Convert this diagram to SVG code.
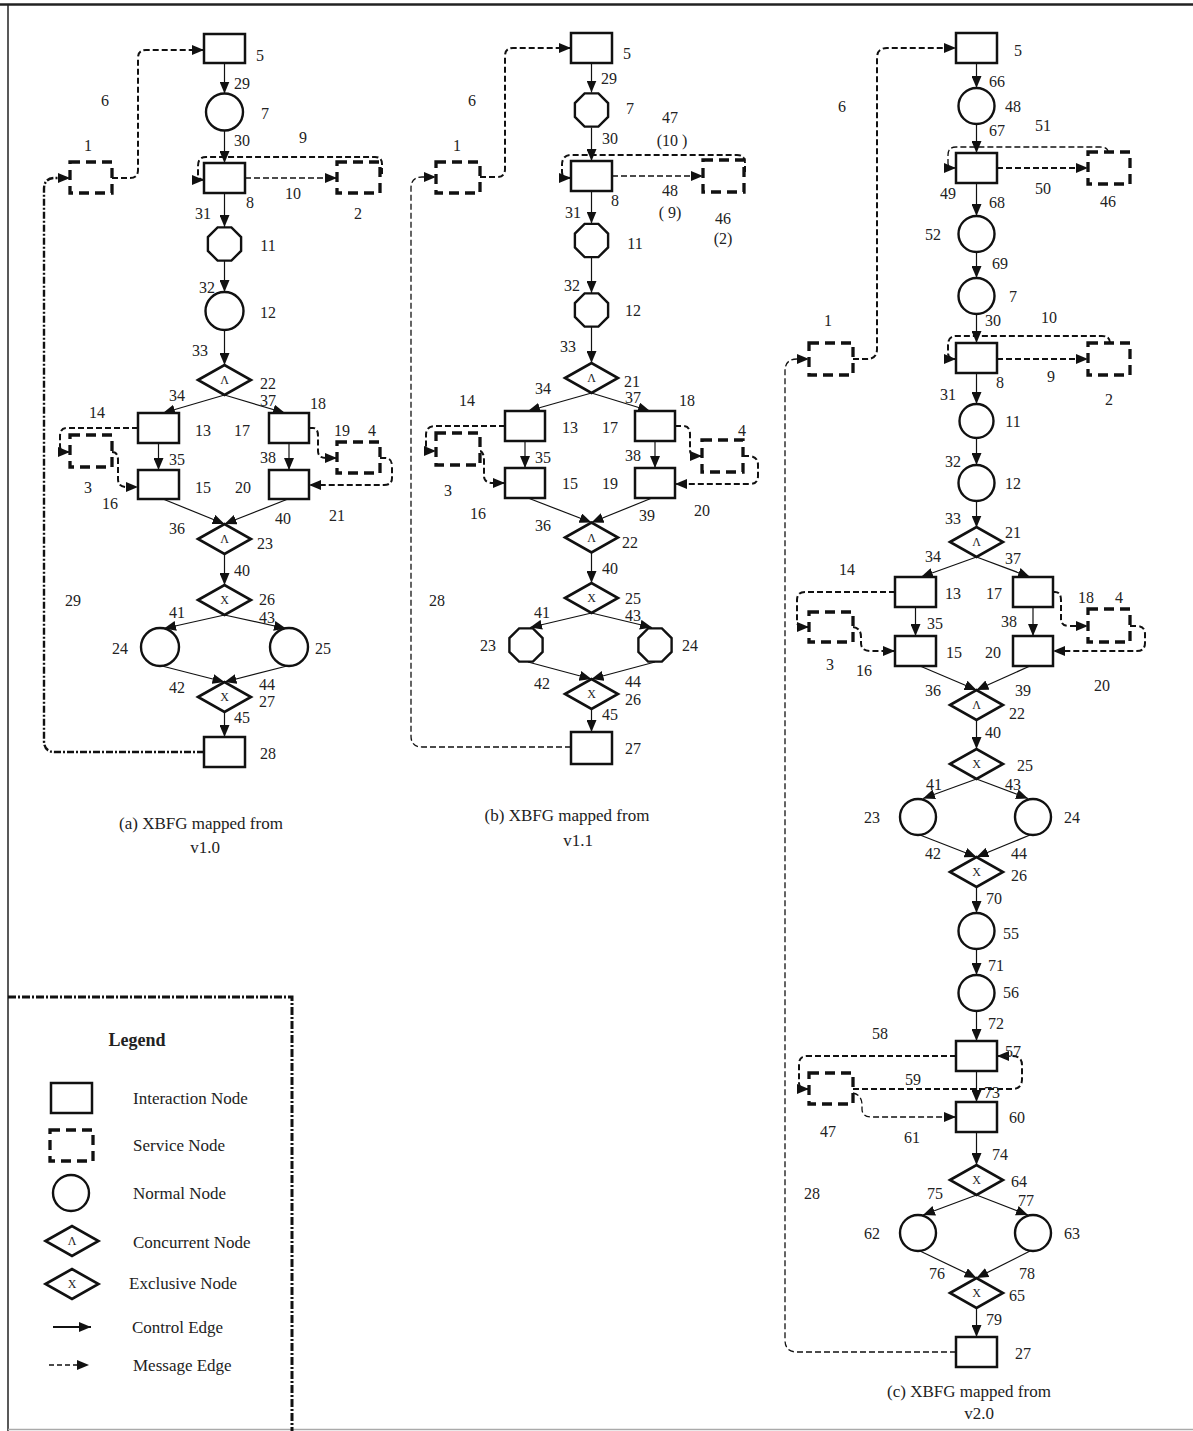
<svg xmlns="http://www.w3.org/2000/svg" width="1193" height="1431" viewBox="0 0 1193 1431">
<style>
.ni{fill:#fff;stroke:#111;stroke-width:2.5}
.sv{fill:#fff;stroke:#111;stroke-width:3.3;stroke-dasharray:10 6}
.nn{fill:#fff;stroke:#111;stroke-width:2.4}
.dm{fill:#fff;stroke:#111;stroke-width:2.6}
.ce{fill:none;stroke:#111;stroke-width:1.2;marker-end:url(#ah)}
.me{fill:none;stroke:#111;stroke-width:2;stroke-dasharray:6 3;marker-end:url(#ah)}
.mt{fill:none;stroke:#111;stroke-width:1.3;stroke-dasharray:6 3;marker-end:url(#ah)}
.ml{fill:none;stroke:#111;stroke-width:2.4;stroke-dasharray:7 2 2 2;marker-end:url(#ah)}
text{font-family:"Liberation Serif","Times New Roman",serif;fill:#222}
.l{font-size:16px;text-anchor:middle}
.g{font-size:12px;text-anchor:middle}
.cap{font-size:17px;text-anchor:middle}
.lg{font-size:17px}
</style>
<defs>
<marker id="ah" markerUnits="userSpaceOnUse" markerWidth="13" markerHeight="10" refX="12" refY="5" orient="auto"><path d="M0,0 L12,5 L0,10 z" fill="#111"/></marker>
<polygon id="dia" points="-26.5,0 0,-15 26.5,0 0,15"/>
<polygon id="oct" points="-6.9,-16.6 6.9,-16.6 16.6,-6.9 16.6,6.9 6.9,16.6 -6.9,16.6 -16.6,6.9 -16.6,-6.9"/>
</defs>
<rect x="0" y="0" width="1193" height="1431" fill="#fff"/>
<!-- frame -->
<line x1="0" y1="4.5" x2="1193" y2="4.5" stroke="#222" stroke-width="2.5"/>
<line x1="8" y1="4" x2="8" y2="1431" stroke="#222" stroke-width="1.5"/>
<line x1="8" y1="1429.5" x2="1193" y2="1429.5" stroke="#aaa" stroke-width="1.5"/>

<!-- ================= connectors ================= -->
<g id="connectors">
<!-- (a) control -->
<path class="ce" d="M224.5,63 V93.5"/>
<path class="ce" d="M224.5,130.5 V163"/>
<path class="ce" d="M224.5,193 V227"/>
<path class="ce" d="M224.5,261 V292"/>
<path class="ce" d="M224.5,330 V365"/>
<path class="ce" d="M224.5,395 L163,413"/>
<path class="ce" d="M224.5,395 L285,413"/>
<path class="ce" d="M158.5,443 V470"/>
<path class="ce" d="M289,443 V470"/>
<path class="ce" d="M163,499 L224.5,524"/>
<path class="ce" d="M288,499 L224.5,524"/>
<path class="ce" d="M224.5,554 V585"/>
<path class="ce" d="M224.5,615 L164,628.5"/>
<path class="ce" d="M224.5,615 L286,628.5"/>
<path class="ce" d="M162,666 L224.5,682"/>
<path class="ce" d="M287,666 L224.5,682"/>
<path class="ce" d="M224.5,712 V737"/>
<!-- (a) message -->
<path class="me" d="M112,178 H130 Q138,178 138,170 V58 Q138,50 146,50 H204"/>
<path class="ml" d="M204,752 H55 Q44,752 44,741 V189 Q44,178 55,178 H70"/>
<path class="mt" d="M245,178 H337"/>
<path class="me" d="M382,174 V164 Q382,157 375,157 H206 Q198,157 198,166 V174 Q198,180 204,180"/>
<path class="me" d="M138,428 H67 Q60,428 60,436 V446 Q60,452 66,452 H70"/>
<path class="me" d="M112,452 Q118,452 118,460 V479 Q118,487 126,487 H138"/>
<path class="me" d="M309,428 H313 Q318,428 318,436 V451 Q318,458 326,458 H337"/>
<path class="me" d="M380,458 H385 Q392,458 392,466 V478 Q392,485 384,485 H309"/>

<!-- (b) control -->
<path class="ce" d="M591.5,63 V92.5"/>
<path class="ce" d="M591.5,127.5 V161"/>
<path class="ce" d="M591.5,191 V223.5"/>
<path class="ce" d="M591.5,257.5 V293"/>
<path class="ce" d="M591.5,327 V363"/>
<path class="ce" d="M591.5,393 L528,411"/>
<path class="ce" d="M591.5,393 L650,411"/>
<path class="ce" d="M525,441 V468"/>
<path class="ce" d="M655,441 V468"/>
<path class="ce" d="M528,498 L591.5,522.5"/>
<path class="ce" d="M652,498 L591.5,522.5"/>
<path class="ce" d="M591.5,552.5 V583"/>
<path class="ce" d="M591.5,613 L530,627.5"/>
<path class="ce" d="M591.5,613 L652,627.5"/>
<path class="ce" d="M528,662 L591.5,679"/>
<path class="ce" d="M655,662 L591.5,679"/>
<path class="ce" d="M591.5,709 V732"/>
<!-- (b) message -->
<path class="me" d="M480,177 H497 Q505,177 505,169 V56 Q505,48 513,48 H571"/>
<path class="mt" d="M571,747 H422 Q411,747 411,736 V188 Q411,177 422,177 H436"/>
<path class="mt" d="M612,176 H703"/>
<path class="me" d="M745,172 V163 Q745,155 737,155 H571 Q562,155 562,165 V172 Q562,178 571,178"/>
<path class="me" d="M505,426 H435 Q426,426 426,435 V445 Q426,451 432,451 H436"/>
<path class="me" d="M480,451 Q484,452 484,461 V476 Q484,483 493,483 H505"/>
<path class="me" d="M675,426 H683 Q690,426 690,434 V450 Q690,456 697,456 H702"/>
<path class="me" d="M743,456 H750 Q758,457 758,465 V476 Q758,484 750,484 H675"/>

<!-- (c) control -->
<path class="ce" d="M976.5,63 V88"/>
<path class="ce" d="M976.5,124 V153"/>
<path class="ce" d="M976.5,183 V216"/>
<path class="ce" d="M976.5,252 V278"/>
<path class="ce" d="M976.5,314 V343"/>
<path class="ce" d="M976.5,373 V404"/>
<path class="ce" d="M976.5,438 V465"/>
<path class="ce" d="M976.5,501 V527.5"/>
<path class="ce" d="M976.5,557 L921,577"/>
<path class="ce" d="M976.5,557 L1030,577"/>
<path class="ce" d="M915.5,607 V636"/>
<path class="ce" d="M1033,607 V636"/>
<path class="ce" d="M920,666 L976.5,690"/>
<path class="ce" d="M1030,666 L976.5,690"/>
<path class="ce" d="M976.5,720 V749"/>
<path class="ce" d="M976.5,779 L923,798.5"/>
<path class="ce" d="M976.5,779 L1028,798.5"/>
<path class="ce" d="M920,835 L976.5,857"/>
<path class="ce" d="M1030,835 L976.5,857"/>
<path class="ce" d="M976.5,887 V913"/>
<path class="ce" d="M976.5,949 V975"/>
<path class="ce" d="M976.5,1011 V1041"/>
<path class="ce" d="M976.5,1071 V1102"/>
<path class="ce" d="M976.5,1132 V1165"/>
<path class="ce" d="M976.5,1195 L923,1215"/>
<path class="ce" d="M976.5,1195 L1028,1215"/>
<path class="ce" d="M920,1251 L976.5,1278"/>
<path class="ce" d="M1030,1251 L976.5,1278"/>
<path class="ce" d="M976.5,1308 V1337"/>
<!-- (c) message -->
<path class="me" d="M853,359 H867 Q877,359 877,349 V58 Q877,48 887,48 H956"/>
<path class="mt" d="M956,1352 H797 Q785,1352 785,1340 V371 Q785,359 797,359 H809"/>
<path class="me" d="M997,168 H1088"/>
<path class="mt" d="M1108,152 Q1108,147 1100,147 H956 Q948,147 948,155 V163 Q948,168 956,168"/>
<path class="me" d="M997,359 H1088"/>
<path class="me" d="M1110,343 Q1110,336 1102,336 H956 Q948,336 948,345 V353 Q948,359 956,359"/>
<path class="me" d="M895,592 H805 Q797,592 797,600 V621 Q797,627 803,627 H809"/>
<path class="me" d="M853,627 Q861,628 861,637 V643 Q861,651 871,651 H895"/>
<path class="me" d="M1053,592 H1055 Q1061,592 1061,600 V619 Q1061,626 1069,626 H1088"/>
<path class="me" d="M1130,626 H1137 Q1145,626 1145,634 V643 Q1145,651 1137,651 H1053"/>
<path class="me" d="M956,1056 H807 Q799,1056 799,1064 V1083 Q799,1089 805,1089 H809"/>
<path class="me" d="M853,1089 H1012 Q1022,1089 1022,1079 V1065 Q1022,1056 1012,1056 H997"/>
<path class="mt" d="M853,1093 Q862,1095 862,1105 V1109 Q862,1117 872,1117 H956"/>
</g>

<!-- ================= column (a) nodes ================= -->
<g id="a-5"><rect class="ni" x="204" y="34" width="41" height="29"/></g>
<g id="a-7"><circle class="nn" cx="224.5" cy="112" r="18.5"/></g>
<g id="a-8"><rect class="ni" x="204" y="163" width="41" height="30"/></g>
<g id="a-2"><rect class="sv" x="337" y="162" width="43" height="31"/></g>
<g id="a-1"><rect class="sv" x="70" y="162" width="42" height="31"/></g>
<g id="a-11"><use href="#oct" class="nn" transform="translate(224.5,244)"/></g>
<g id="a-12"><circle class="nn" cx="224.5" cy="311" r="19"/></g>
<g id="a-22"><use href="#dia" class="dm" transform="translate(224.5,380)"/><text class="g" x="224.5" y="384">Λ</text></g>
<g id="a-13"><rect class="ni" x="138" y="413" width="41" height="30"/></g>
<g id="a-18"><rect class="ni" x="269" y="413" width="40" height="30"/></g>
<g id="a-3"><rect class="sv" x="70" y="435" width="42" height="32"/></g>
<g id="a-4"><rect class="sv" x="337" y="442" width="43" height="31"/></g>
<g id="a-15"><rect class="ni" x="138" y="470" width="41" height="29"/></g>
<g id="a-20"><rect class="ni" x="269" y="470" width="40" height="29"/></g>
<g id="a-23"><use href="#dia" class="dm" transform="translate(224.5,539)"/><text class="g" x="224.5" y="543">Λ</text></g>
<g id="a-26"><use href="#dia" class="dm" transform="translate(224.5,600)"/><text class="g" x="224.5" y="604">X</text></g>
<g id="a-24"><circle class="nn" cx="160" cy="647" r="19"/></g>
<g id="a-25"><circle class="nn" cx="289" cy="647" r="19"/></g>
<g id="a-27"><use href="#dia" class="dm" transform="translate(224.5,697)"/><text class="g" x="224.5" y="701">X</text></g>
<g id="a-28"><rect class="ni" x="204" y="737" width="41" height="30"/></g>

<!-- ================= column (b) nodes ================= -->
<g id="b-5"><rect class="ni" x="571" y="33" width="41" height="30"/></g>
<g id="b-7"><use href="#oct" class="nn" transform="translate(591.5,110)"/></g>
<g id="b-8"><rect class="ni" x="571" y="161" width="41" height="30"/></g>
<g id="b-46"><rect class="sv" x="703" y="160" width="41" height="32"/></g>
<g id="b-1"><rect class="sv" x="436" y="162" width="44" height="31"/></g>
<g id="b-11"><use href="#oct" class="nn" transform="translate(591.5,240.5)"/></g>
<g id="b-12"><use href="#oct" class="nn" transform="translate(591.5,310)"/></g>
<g id="b-21"><use href="#dia" class="dm" transform="translate(591.5,378)"/><text class="g" x="591.5" y="382">Λ</text></g>
<g id="b-13"><rect class="ni" x="505" y="411" width="40" height="30"/></g>
<g id="b-17"><rect class="ni" x="635" y="411" width="40" height="30"/></g>
<g id="b-3"><rect class="sv" x="436" y="433" width="44" height="32"/></g>
<g id="b-4"><rect class="sv" x="702" y="440" width="41" height="32"/></g>
<g id="b-15"><rect class="ni" x="505" y="468" width="40" height="30"/></g>
<g id="b-19"><rect class="ni" x="635" y="468" width="40" height="30"/></g>
<g id="b-22"><use href="#dia" class="dm" transform="translate(591.5,537.5)"/><text class="g" x="591.5" y="541.5">Λ</text></g>
<g id="b-25"><use href="#dia" class="dm" transform="translate(591.5,598)"/><text class="g" x="591.5" y="602">X</text></g>
<g id="b-23"><use href="#oct" class="nn" transform="translate(526,645)"/></g>
<g id="b-24"><use href="#oct" class="nn" transform="translate(655,645)"/></g>
<g id="b-26"><use href="#dia" class="dm" transform="translate(591.5,694)"/><text class="g" x="591.5" y="698">X</text></g>
<g id="b-27"><rect class="ni" x="571" y="732" width="41" height="32"/></g>

<!-- ================= column (c) nodes ================= -->
<g id="c-5"><rect class="ni" x="956" y="33" width="41" height="30"/></g>
<g id="c-48"><circle class="nn" cx="976.5" cy="106" r="18"/></g>
<g id="c-49"><rect class="ni" x="956" y="153" width="41" height="30"/></g>
<g id="c-46"><rect class="sv" x="1088" y="152" width="42" height="32"/></g>
<g id="c-52"><circle class="nn" cx="976.5" cy="234" r="18"/></g>
<g id="c-7"><circle class="nn" cx="976.5" cy="296" r="18"/></g>
<g id="c-8"><rect class="ni" x="956" y="343" width="41" height="30"/></g>
<g id="c-2"><rect class="sv" x="1088" y="343" width="42" height="32"/></g>
<g id="c-1"><rect class="sv" x="809" y="343" width="44" height="32"/></g>
<g id="c-11"><circle class="nn" cx="976.5" cy="421" r="17"/></g>
<g id="c-12"><circle class="nn" cx="976.5" cy="483" r="18"/></g>
<g id="c-21"><use href="#dia" class="dm" transform="translate(976.5,542)"/><text class="g" x="976.5" y="546">Λ</text></g>
<g id="c-13"><rect class="ni" x="895" y="577" width="41" height="30"/></g>
<g id="c-17"><rect class="ni" x="1013" y="577" width="40" height="30"/></g>
<g id="c-3"><rect class="sv" x="809" y="612" width="44" height="30"/></g>
<g id="c-4"><rect class="sv" x="1088" y="609" width="42" height="33"/></g>
<g id="c-15"><rect class="ni" x="895" y="636" width="41" height="30"/></g>
<g id="c-20"><rect class="ni" x="1013" y="636" width="40" height="30"/></g>
<g id="c-22"><use href="#dia" class="dm" transform="translate(976.5,705)"/><text class="g" x="976.5" y="709">Λ</text></g>
<g id="c-25"><use href="#dia" class="dm" transform="translate(976.5,764)"/><text class="g" x="976.5" y="768">X</text></g>
<g id="c-23"><circle class="nn" cx="918" cy="817" r="18"/></g>
<g id="c-24"><circle class="nn" cx="1033" cy="817" r="18"/></g>
<g id="c-26"><use href="#dia" class="dm" transform="translate(976.5,872)"/><text class="g" x="976.5" y="876">X</text></g>
<g id="c-55"><circle class="nn" cx="976.5" cy="931" r="18"/></g>
<g id="c-56"><circle class="nn" cx="976.5" cy="993" r="18"/></g>
<g id="c-57"><rect class="ni" x="956" y="1041" width="41" height="30"/></g>
<g id="c-47"><rect class="sv" x="809" y="1073" width="44" height="31"/></g>
<g id="c-60"><rect class="ni" x="956" y="1102" width="41" height="30"/></g>
<g id="c-64"><use href="#dia" class="dm" transform="translate(976.5,1180)"/><text class="g" x="976.5" y="1184">X</text></g>
<g id="c-62"><circle class="nn" cx="918" cy="1233" r="18"/></g>
<g id="c-63"><circle class="nn" cx="1033" cy="1233" r="18"/></g>
<g id="c-65"><use href="#dia" class="dm" transform="translate(976.5,1293)"/><text class="g" x="976.5" y="1297">X</text></g>
<g id="c-27"><rect class="ni" x="956" y="1337" width="41" height="30"/></g>

<!-- ================= labels ================= -->
<g id="labels-a" class="l">
<text class="l" x="260" y="61">5</text><text class="l" x="242" y="89">29</text><text class="l" x="265" y="119">7</text>
<text class="l" x="105" y="106">6</text><text class="l" x="242" y="146">30</text><text class="l" x="303" y="143">9</text>
<text class="l" x="88" y="151">1</text><text class="l" x="250" y="208">8</text><text class="l" x="293" y="199">10</text>
<text class="l" x="358" y="219">2</text><text class="l" x="203" y="219">31</text><text class="l" x="268" y="251">11</text>
<text class="l" x="207" y="293">32</text><text class="l" x="268" y="318">12</text><text class="l" x="200" y="356">33</text>
<text class="l" x="268" y="389">22</text><text class="l" x="177" y="401">34</text><text class="l" x="268" y="406">37</text>
<text class="l" x="318" y="409">18</text><text class="l" x="97" y="418">14</text><text class="l" x="203" y="436">13</text>
<text class="l" x="242" y="436">17</text><text class="l" x="342" y="436">19</text><text class="l" x="372" y="436">4</text>
<text class="l" x="177" y="465">35</text><text class="l" x="268" y="463">38</text><text class="l" x="88" y="493">3</text>
<text class="l" x="203" y="493">15</text><text class="l" x="243" y="493">20</text><text class="l" x="110" y="509">16</text>
<text class="l" x="283" y="524">40</text><text class="l" x="337" y="521">21</text><text class="l" x="177" y="534">36</text>
<text class="l" x="265" y="549">23</text><text class="l" x="242" y="576">40</text><text class="l" x="267" y="605">26</text>
<text class="l" x="73" y="606">29</text><text class="l" x="177" y="618">41</text><text class="l" x="267" y="623">43</text>
<text class="l" x="120" y="654">24</text><text class="l" x="323" y="654">25</text><text class="l" x="177" y="693">42</text>
<text class="l" x="267" y="690">44</text><text class="l" x="267" y="707">27</text><text class="l" x="242" y="723">45</text>
<text class="l" x="268" y="759">28</text>
<text class="cap" x="201" y="829">(a)  XBFG mapped from</text>
<text class="cap" x="205" y="853">v1.0</text>
</g>
<g id="labels-b">
<text class="l" x="627" y="59">5</text><text class="l" x="609" y="84">29</text><text class="l" x="630" y="114">7</text>
<text class="l" x="472" y="106">6</text><text class="l" x="670" y="123">47</text><text class="l" x="672" y="146">(10 )</text>
<text class="l" x="610" y="144">30</text><text class="l" x="457" y="151">1</text><text class="l" x="615" y="206">8</text>
<text class="l" x="670" y="196">48</text><text class="l" x="670" y="218">( 9)</text><text class="l" x="723" y="224">46</text>
<text class="l" x="723" y="244">(2)</text><text class="l" x="573" y="218">31</text><text class="l" x="635" y="249">11</text>
<text class="l" x="572" y="291">32</text><text class="l" x="633" y="316">12</text><text class="l" x="568" y="352">33</text>
<text class="l" x="632" y="387">21</text><text class="l" x="543" y="394">34</text><text class="l" x="633" y="403">37</text>
<text class="l" x="467" y="406">14</text><text class="l" x="687" y="406">18</text><text class="l" x="570" y="433">13</text>
<text class="l" x="610" y="433">17</text><text class="l" x="742" y="436">4</text><text class="l" x="543" y="463">35</text>
<text class="l" x="633" y="461">38</text><text class="l" x="570" y="489">15</text><text class="l" x="610" y="489">19</text>
<text class="l" x="448" y="496">3</text><text class="l" x="702" y="516">20</text><text class="l" x="647" y="521">39</text>
<text class="l" x="478" y="519">16</text><text class="l" x="543" y="531">36</text><text class="l" x="630" y="548">22</text>
<text class="l" x="610" y="574">40</text><text class="l" x="633" y="604">25</text><text class="l" x="437" y="606">28</text>
<text class="l" x="542" y="618">41</text><text class="l" x="633" y="621">43</text><text class="l" x="488" y="651">23</text>
<text class="l" x="690" y="651">24</text><text class="l" x="542" y="689">42</text><text class="l" x="633" y="687">44</text>
<text class="l" x="633" y="705">26</text><text class="l" x="610" y="720">45</text><text class="l" x="633" y="754">27</text>
<text class="cap" x="567" y="821">(b)  XBFG mapped from</text>
<text class="cap" x="578" y="846">v1.1</text>
</g>
<g id="labels-c">
<text class="l" x="1018" y="56">5</text><text class="l" x="997" y="87">66</text><text class="l" x="1013" y="112">48</text>
<text class="l" x="842" y="112">6</text><text class="l" x="997" y="136">67</text><text class="l" x="1043" y="131">51</text>
<text class="l" x="948" y="199">49</text><text class="l" x="997" y="208">68</text><text class="l" x="1043" y="194">50</text>
<text class="l" x="1108" y="207">46</text><text class="l" x="933" y="240">52</text><text class="l" x="1000" y="269">69</text>
<text class="l" x="1013" y="302">7</text><text class="l" x="828" y="326">1</text><text class="l" x="993" y="326">30</text>
<text class="l" x="1049" y="323">10</text><text class="l" x="1000" y="388">8</text><text class="l" x="1051" y="382">9</text>
<text class="l" x="1109" y="405">2</text><text class="l" x="948" y="400">31</text><text class="l" x="1013" y="427">11</text>
<text class="l" x="953" y="467">32</text><text class="l" x="1013" y="489">12</text><text class="l" x="953" y="524">33</text>
<text class="l" x="1013" y="538">21</text><text class="l" x="933" y="562">34</text><text class="l" x="1013" y="564">37</text>
<text class="l" x="847" y="575">14</text><text class="l" x="953" y="599">13</text><text class="l" x="994" y="599">17</text>
<text class="l" x="1086" y="603">18</text><text class="l" x="1119" y="603">4</text><text class="l" x="935" y="629">35</text>
<text class="l" x="1009" y="627">38</text><text class="l" x="954" y="658">15</text><text class="l" x="993" y="658">20</text>
<text class="l" x="830" y="670">3</text><text class="l" x="864" y="676">16</text><text class="l" x="1102" y="691">20</text>
<text class="l" x="933" y="696">36</text><text class="l" x="1023" y="696">39</text><text class="l" x="1017" y="719">22</text>
<text class="l" x="993" y="738">40</text><text class="l" x="1025" y="771">25</text><text class="l" x="934" y="790">41</text>
<text class="l" x="1013" y="790">43</text><text class="l" x="872" y="823">23</text><text class="l" x="1072" y="823">24</text>
<text class="l" x="933" y="859">42</text><text class="l" x="1019" y="859">44</text><text class="l" x="1019" y="881">26</text>
<text class="l" x="994" y="904">70</text><text class="l" x="1011" y="939">55</text><text class="l" x="996" y="971">71</text>
<text class="l" x="1011" y="998">56</text><text class="l" x="996" y="1029">72</text><text class="l" x="880" y="1039">58</text>
<text class="l" x="1013" y="1057">57</text><text class="l" x="913" y="1085">59</text><text class="l" x="992" y="1098">73</text>
<text class="l" x="1017" y="1123">60</text><text class="l" x="828" y="1137">47</text><text class="l" x="912" y="1143">61</text>
<text class="l" x="1000" y="1160">74</text><text class="l" x="1019" y="1187">64</text><text class="l" x="812" y="1199">28</text>
<text class="l" x="935" y="1199">75</text><text class="l" x="1026" y="1206">77</text><text class="l" x="872" y="1239">62</text>
<text class="l" x="1072" y="1239">63</text><text class="l" x="937" y="1279">76</text><text class="l" x="1027" y="1279">78</text>
<text class="l" x="1017" y="1301">65</text><text class="l" x="994" y="1325">79</text><text class="l" x="1023" y="1359">27</text>
<text class="cap" x="969" y="1397">(c)  XBFG mapped from</text>
<text class="cap" x="979" y="1419">v2.0</text>
</g>

<!-- ================= legend ================= -->
<g id="legend">
<path d="M8,997 H292 V1431" fill="none" stroke="#111" stroke-width="3" stroke-dasharray="8 2 2 2"/>
<text x="137" y="1046" font-size="18" font-weight="bold" text-anchor="middle">Legend</text>
<rect class="ni" x="51" y="1083" width="41" height="30"/>
<text class="lg" x="133" y="1104">Interaction Node</text>
<rect class="sv" x="50" y="1130" width="43" height="31"/>
<text class="lg" x="133" y="1151">Service Node</text>
<circle class="nn" cx="71" cy="1193" r="18"/>
<text class="lg" x="133" y="1199">Normal Node</text>
<use href="#dia" class="dm" transform="translate(72,1241)"/><text class="g" x="72" y="1245">Λ</text>
<text class="lg" x="133" y="1248">Concurrent Node</text>
<use href="#dia" class="dm" transform="translate(72,1284)"/><text class="g" x="72" y="1288">X</text>
<text class="lg" x="129" y="1289">Exclusive Node</text>
<path class="ce" d="M53,1327 H91" style="stroke-width:1.8"/>
<text class="lg" x="132" y="1333">Control Edge</text>
<path d="M49,1365 H89" fill="none" stroke="#111" stroke-width="1.3" stroke-dasharray="5 3" marker-end="url(#ah)"/>
<text class="lg" x="133" y="1371">Message Edge</text>
</g>
</svg>
